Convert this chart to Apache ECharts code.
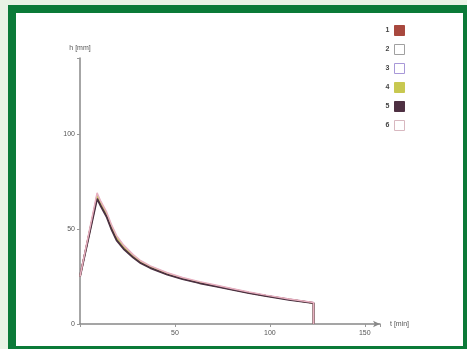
<!DOCTYPE html>
<html>
<head>
<meta charset="utf-8">
<script src="https://cdn.jsdelivr.net/npm/echarts@6/dist/echarts.min.js"></script>
<style>
  html, body { margin: 0; padding: 0; width: 467px; height: 349px; overflow: hidden; background: #e9f3e5; }
  #frame { position: absolute; left: 8px; top: 5px; width: 459px; height: 344px; background: #0b7a38; }
  #inner { position: absolute; left: 16px; top: 13px; width: 447px; height: 333px; background: #ffffff; }
  #chart { position: absolute; left: 0; top: 0; width: 467px; height: 349px; }
</style>
</head>
<body>
<div id="frame"></div>
<div id="inner"></div>
<div id="chart"></div>
<script>
// time [min]
const times = [0, 9, 11, 14, 16.5, 19.3, 23, 28, 32, 37, 46, 54, 63, 72, 80.5, 89, 98, 110, 123, 123];
// water level h [mm] per series
const s1 = [25, 67, 63, 57.5, 51, 45, 40.3, 35.6, 32.6, 30, 26.4, 24, 21.8, 19.9, 18.2, 16.5, 14.9, 13, 11.1, 0];
const s2 = [25, 66.5, 62.5, 57, 50.5, 44.5, 40, 35.3, 32.3, 29.7, 26.2, 23.8, 21.6, 19.8, 18.1, 16.4, 14.8, 12.9, 11, 0];
const s3 = [25, 68, 63.8, 58.2, 51.8, 45.8, 41, 36, 33, 30.3, 26.7, 24.2, 22, 20.1, 18.4, 16.6, 15, 13.1, 11.2, 0];
const s4 = [25, 67.5, 63.3, 57.8, 51.4, 45.4, 40.6, 35.8, 32.8, 30.1, 26.5, 24.1, 21.9, 20, 18.3, 16.5, 14.9, 13, 11.1, 0];
const s5 = [25, 66, 62, 56.5, 50, 44, 39.5, 35, 32, 29.5, 26, 23.7, 21.5, 19.7, 18, 16.3, 14.7, 12.8, 11, 0];
const s6 = [25, 69, 64.5, 59, 52.5, 46.5, 41.5, 36.5, 33.3, 30.6, 27, 24.5, 22.3, 20.4, 18.6, 16.8, 15.2, 13.2, 11.3, 0];
const seriesNames = ['1', '2', '3', '4', '5', '6'];
const seriesValues = [s1, s2, s3, s4, s5, s6];
const xTicks = [50, 100, 150];
const yTicks = [0, 50, 100];

const lineColors = ['#a85048', '#a09898', '#b0a0d8', '#c8c860', '#4a3040', '#e8b0c0'];
const swatchFill = ['#a8483e', '#ffffff', '#ffffff', '#c8c850', '#4e3042', '#ffffff'];
const swatchBorder = ['#a8483e', '#a0a0a0', '#a898d8', '#c8c850', '#4e3042', '#d8b8c0'];

const chart = echarts.init(document.getElementById('chart'), null, { renderer: 'canvas' });
const font = 'Liberation Sans';
chart.setOption({
  backgroundColor: 'transparent',
  animation: false,
  grid: { left: 80, top: 58, right: 87, bottom: 25, containLabel: false },
  legend: {
    orient: 'vertical',
    right: 57,
    top: 20,
    align: 'right',
    itemWidth: 10,
    itemHeight: 10,
    itemGap: 8,
    textStyle: { fontFamily: font, fontSize: 7, color: '#444', fontWeight: 'bold', padding: [0, 0, 0, 0] },
    data: seriesNames.map((n, i) => ({
      name: n, icon: 'rect',
      itemStyle: { color: swatchFill[i], borderColor: swatchBorder[i], borderWidth: 1 }
    }))
  },
  xAxis: {
    type: 'value', min: 0, max: 158, interval: 50,
    name: 't [min]', nameLocation: 'end', nameGap: 10,
    nameTextStyle: { fontFamily: font, fontSize: 7, color: '#555' },
    splitLine: { show: false },
    axisLine: { show: true, lineStyle: { color: '#888', width: 1.5 }, symbol: ['none', 'arrow'], symbolSize: [5, 7] },
    axisTick: { show: true, length: 3, lineStyle: { color: '#999' } },
    axisLabel: {
      fontFamily: font, fontSize: 7, color: '#555', margin: 6,
      formatter: v => xTicks.includes(v) ? String(v) : ''
    }
  },
  yAxis: {
    type: 'value', min: 0, max: 140, interval: 50,
    name: 'h [mm]', nameLocation: 'end', nameGap: 6,
    nameTextStyle: { fontFamily: font, fontSize: 7, color: '#555', align: 'center' },
    splitLine: { show: false },
    axisLine: { show: true, lineStyle: { color: '#888', width: 1.5 } },
    axisTick: { show: true, length: 3, lineStyle: { color: '#999' } },
    axisLabel: {
      fontFamily: font, fontSize: 7, color: '#555', margin: 5,
      formatter: v => yTicks.includes(v) ? String(v) : ''
    }
  },
  series: seriesValues.map((vals, i) => ({
    name: seriesNames[i],
    type: 'line',
    showSymbol: false,
    symbol: 'none',
    smooth: false,
    color: lineColors[i],
    lineStyle: { color: lineColors[i], width: i === 4 ? 2 : 1.5 },
    data: times.map((t, k) => [t, vals[k]])
  }))
});
</script>
</body>
</html>
